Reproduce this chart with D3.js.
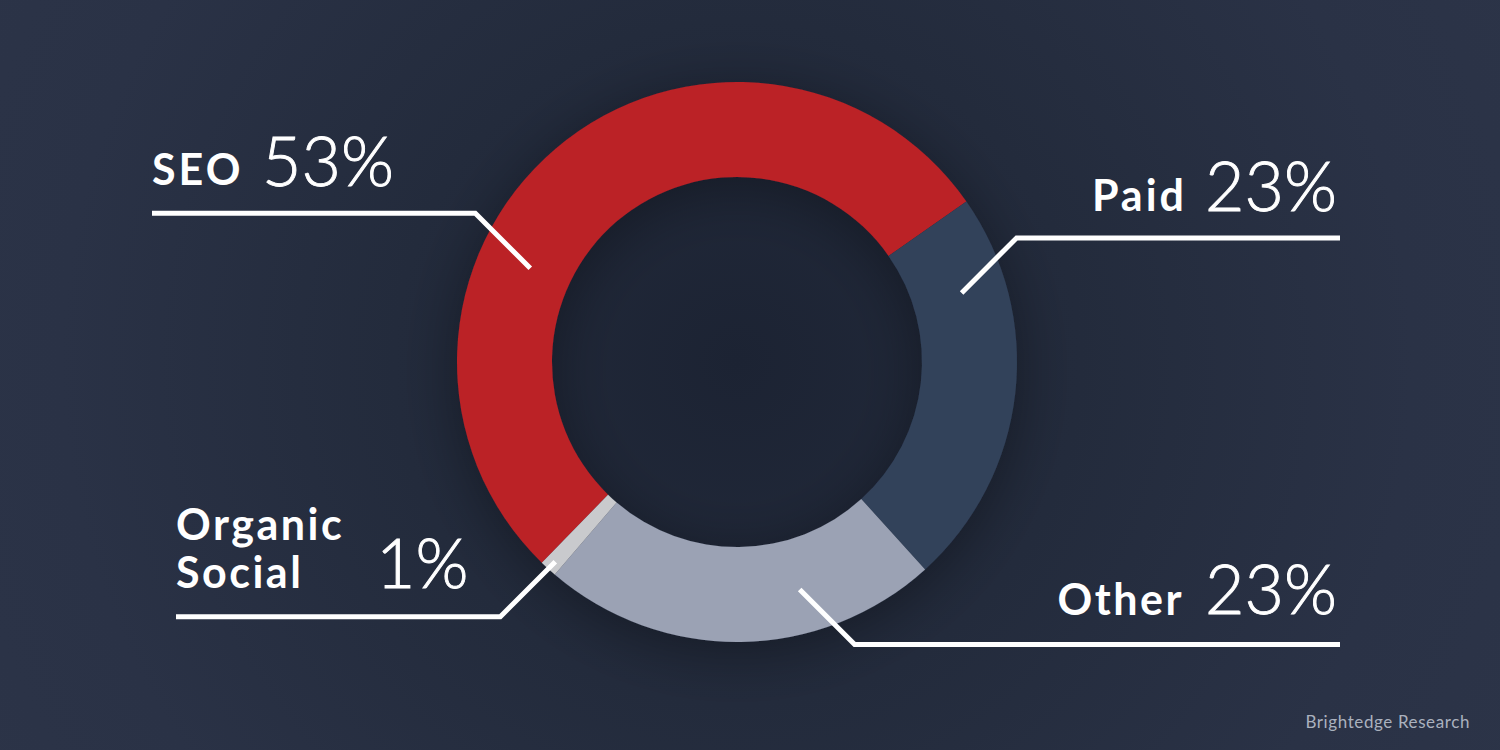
<!DOCTYPE html>
<html><head><meta charset="utf-8">
<script src="https://cdn.jsdelivr.net/npm/d3@7"></script>
<style>html,body{margin:0;padding:0;background:#293144;overflow:hidden}</style>
</head><body>
<svg id="c" width="1500" height="750"></svg>
<script>
const categories = ["SEO", "Paid", "Other", "Organic Social"];
const values = [53, 23, 23, 1];
const colors = ["#BB2026", "#32425A", "#9BA2B4", "#C9CACD"];
// leader anchor angle (deg, clockwise from 12 o'clock) and radius on the ring
const leaderAngles = [-65.6, 72.9, 164.6, 222.3];
const leaderRadii = [227, 235, 236, 270];
const leaderEndX = [152, 1340, 1340, 176];

const W = 1500, H = 750;
const cx = 737, cy = 362, rOuter = 280, rInner = 185;
const svg = d3.select("#c");

const defs = svg.append("defs");
const bg = defs.append("radialGradient").attr("id","bg")
  .attr("gradientUnits","userSpaceOnUse").attr("cx",cx).attr("cy",cy).attr("r",900);
bg.append("stop").attr("offset","0").attr("stop-color","#1c2333");
bg.append("stop").attr("offset","0.38").attr("stop-color","#232b3c");
bg.append("stop").attr("offset","0.75").attr("stop-color","#2a3246");
bg.append("stop").attr("offset","1").attr("stop-color","#2c3448");
svg.append("rect").attr("width",W).attr("height",H).attr("fill","url(#bg)");

const f = defs.append("filter").attr("id","sh").attr("x","-50%").attr("y","-50%").attr("width","200%").attr("height","200%");
f.append("feGaussianBlur").attr("in","SourceAlpha").attr("stdDeviation",30).attr("result","b");
f.append("feOffset").attr("in","b").attr("dx",0).attr("dy",10).attr("result","o");
f.append("feComponentTransfer").attr("in","o").attr("result","o2")
  .append("feFuncA").attr("type","linear").attr("slope",0.35);
const m = f.append("feMerge"); m.append("feMergeNode").attr("in","o2"); m.append("feMergeNode").attr("in","SourceGraphic");

const rad = d => d * Math.PI / 180;
const pie = d3.pie().sort(null).value(d => d)
  .startAngle(rad(-135.8)).endAngle(rad(224.2));
const arcs = pie(values);
const arc = d3.arc().innerRadius(rInner).outerRadius(rOuter);

const g = svg.append("g").attr("transform",`translate(${cx},${cy})`);
g.append("g").attr("filter","url(#sh)").selectAll("path").data(arcs).join("path")
  .attr("d", arc).attr("fill",(d,i)=>colors[i]);

// leader lines
const diag = 55;
categories.forEach((c,i) => {
  const a = rad(leaderAngles[i]);
  const x0 = cx + leaderRadii[i]*Math.sin(a);
  const y0 = cy - leaderRadii[i]*Math.cos(a);
  const sx = Math.sin(a) >= 0 ? 1 : -1;
  const sy = -Math.cos(a) >= 0 ? 1 : -1;
  const x1 = x0 + sx*diag, y1 = y0 + sy*diag;
  svg.append("path")
    .attr("d", d3.line()([[x0,y0],[x1,y1],[leaderEndX[i],y1]]))
    .attr("fill","none").attr("stroke","#ffffff").attr("stroke-width",5)
    .attr("stroke-linejoin","miter");
});

const font = "Lato, 'Noto Sans', sans-serif";
function lab(x,y,t,size,weight,anchor,ls){
  const s = svg.append("text").attr("x",x).attr("y",y).text(t)
    .attr("fill","#fff").attr("font-family",font).attr("font-size",size)
    .attr("font-weight",weight).attr("text-anchor",anchor||"start")
    .attr("letter-spacing", ls||0);
  return s;
}
function big(x,y,t,anchor){
  return lab(x,y,t,68,300,anchor).attr("stroke","#fff").attr("stroke-width",0.9);
}
const pct = v => v + "%";
// SEO
lab(152,185,categories[0],43,700,"start",3);
big(262,186,pct(values[0]));
// Paid
lab(1187,211,categories[1],43,700,"end",3);
big(1337,211,pct(values[1]),"end");
// Other
lab(1184,615,categories[2],43,700,"end",2.5);
big(1337,614,pct(values[2]),"end");
// Organic Social
const os = categories[3].split(" ");
lab(176,540,os[0],43,700,"start",2.5);
lab(176,588,os[1],43,700,"start",2.5);
big(376,588,pct(values[3]));

svg.append("text").attr("x",1470).attr("y",728).attr("text-anchor","end")
  .attr("fill","#aab1be").attr("font-family",font).attr("font-size",17)
  .attr("letter-spacing",0.6)
  .text("Brightedge Research");
</script>
</body></html>
